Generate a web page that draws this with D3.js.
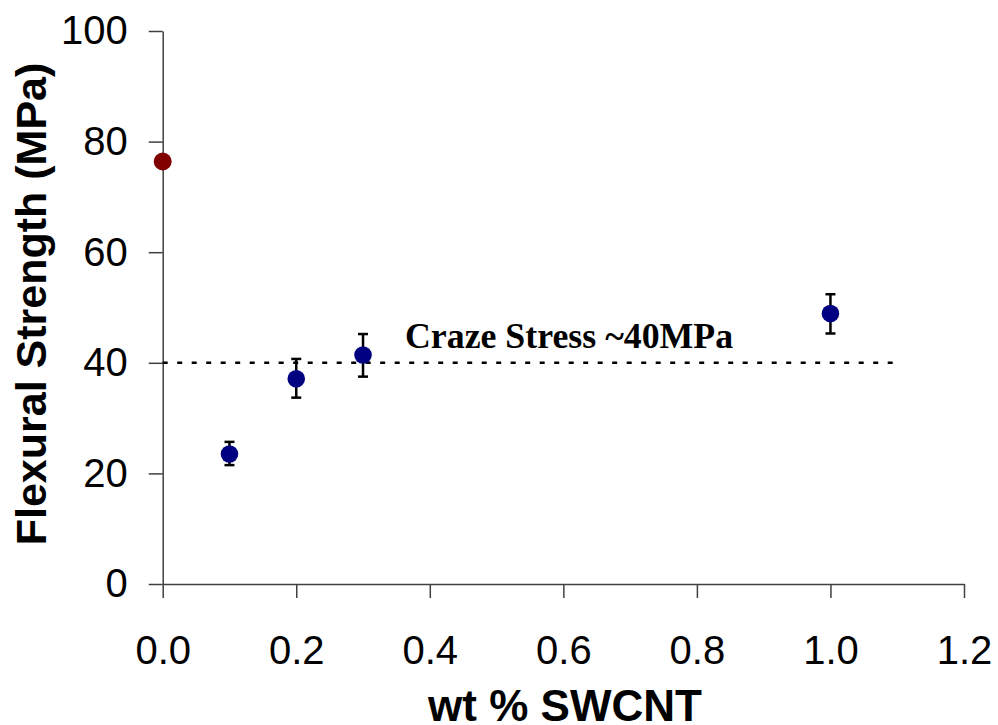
<!DOCTYPE html>
<html>
<head>
<meta charset="utf-8">
<script src="https://cdn.jsdelivr.net/npm/d3@7"></script>
<style>
  body { margin: 0; background: #fff; }
  svg { display: block; }
</style>
</head>
<body>
<div id="chart"></div>
<script>
let w = 998;
let h = 725;

// data
let neatX = [0.0];
let neatY = [76.4];
let wtX = [0.1, 0.2, 0.3, 1.0];
let wtY = [23.5, 37.1, 41.4, 48.9];
let errLow = [21.5, 33.7, 37.5, 45.3];
let errHigh = [25.7, 40.7, 45.2, 52.4];
let crazeLevel = 40;
let crazeEnd = 1.1;
let xTicks = [0, 0.2, 0.4, 0.6, 0.8, 1.0, 1.2];
let yTicks = [0, 20, 40, 60, 80, 100];

let svg = d3.select("#chart").append("svg")
    .attr("width", w)
    .attr("height", h);

let xScale = d3.scaleLinear().domain([0, 1.2]).range([162.7, 964]);
let yScale = d3.scaleLinear().domain([0, 100]).range([584, 31]);

// axes
let xAxis = svg.append("g")
    .attr("transform", "translate(0," + yScale(0) + ")")
    .call(d3.axisBottom(xScale).tickValues(xTicks).tickFormat(d3.format(".1f"))
        .tickSize(14).tickSizeOuter(0).tickPadding(38));
let yAxis = svg.append("g")
    .attr("transform", "translate(" + xScale(0) + ",0)")
    .call(d3.axisLeft(yScale).tickValues(yTicks)
        .tickSize(14).tickSizeOuter(0).tickPadding(21));

[xAxis, yAxis].forEach(function(g){
    g.select(".domain").attr("stroke", "#404040").attr("stroke-width", 1.5);
    g.selectAll(".tick line").attr("stroke", "#404040").attr("stroke-width", 1.5);
    g.selectAll(".tick text")
        .attr("fill", "#000")
        .attr("font-family", "Liberation Sans, Arial, sans-serif")
        .attr("font-size", 40);
});

// craze stress line
svg.append("line")
    .attr("x1", xScale(0))
    .attr("x2", xScale(crazeEnd))
    .attr("y1", yScale(crazeLevel))
    .attr("y2", yScale(crazeLevel))
    .attr("stroke", "#000")
    .attr("stroke-width", 2.6)
    .attr("stroke-dasharray", "5,9.5");

svg.append("text")
    .attr("x", 405)
    .attr("y", 348)
    .attr("font-family", "Liberation Serif, Times New Roman, serif")
    .attr("font-weight", "bold")
    .attr("font-size", 35.8)
    .attr("fill", "#000")
    .text("Craze Stress ~40MPa");

// error bars
let bars = svg.append("g")
    .attr("stroke", "#000")
    .attr("stroke-width", 2.5)
    .selectAll("g")
    .data(wtX)
    .join("g");
bars.append("line")
    .attr("x1", d => xScale(d))
    .attr("x2", d => xScale(d))
    .attr("y1", (d, i) => yScale(errLow[i]))
    .attr("y2", (d, i) => yScale(errHigh[i]));
bars.append("line")
    .attr("x1", d => xScale(d) - 5)
    .attr("x2", d => xScale(d) + 5)
    .attr("y1", (d, i) => yScale(errLow[i]))
    .attr("y2", (d, i) => yScale(errLow[i]));
bars.append("line")
    .attr("x1", d => xScale(d) - 5)
    .attr("x2", d => xScale(d) + 5)
    .attr("y1", (d, i) => yScale(errHigh[i]))
    .attr("y2", (d, i) => yScale(errHigh[i]));

// points
svg.append("g").selectAll("circle")
    .data(wtX)
    .join("circle")
    .attr("cx", d => xScale(d))
    .attr("cy", (d, i) => yScale(wtY[i]))
    .attr("r", 8.8)
    .attr("fill", "#000080");

svg.append("g").selectAll("circle")
    .data(neatX)
    .join("circle")
    .attr("cx", d => xScale(d))
    .attr("cy", (d, i) => yScale(neatY[i]))
    .attr("r", 9)
    .attr("fill", "#800000");

// axis titles
svg.append("text")
    .attr("x", 565)
    .attr("y", 721)
    .attr("text-anchor", "middle")
    .attr("font-family", "Liberation Sans, Arial, sans-serif")
    .attr("font-weight", "bold")
    .attr("font-size", 44)
    .attr("fill", "#000")
    .text("wt % SWCNT");

svg.append("text")
    .attr("transform", "translate(46,304) rotate(-90)")
    .attr("text-anchor", "middle")
    .attr("font-family", "Liberation Sans, Arial, sans-serif")
    .attr("font-weight", "bold")
    .attr("font-size", 43)
    .attr("fill", "#000")
    .text("Flexural Strength (MPa)");
</script>
</body>
</html>
